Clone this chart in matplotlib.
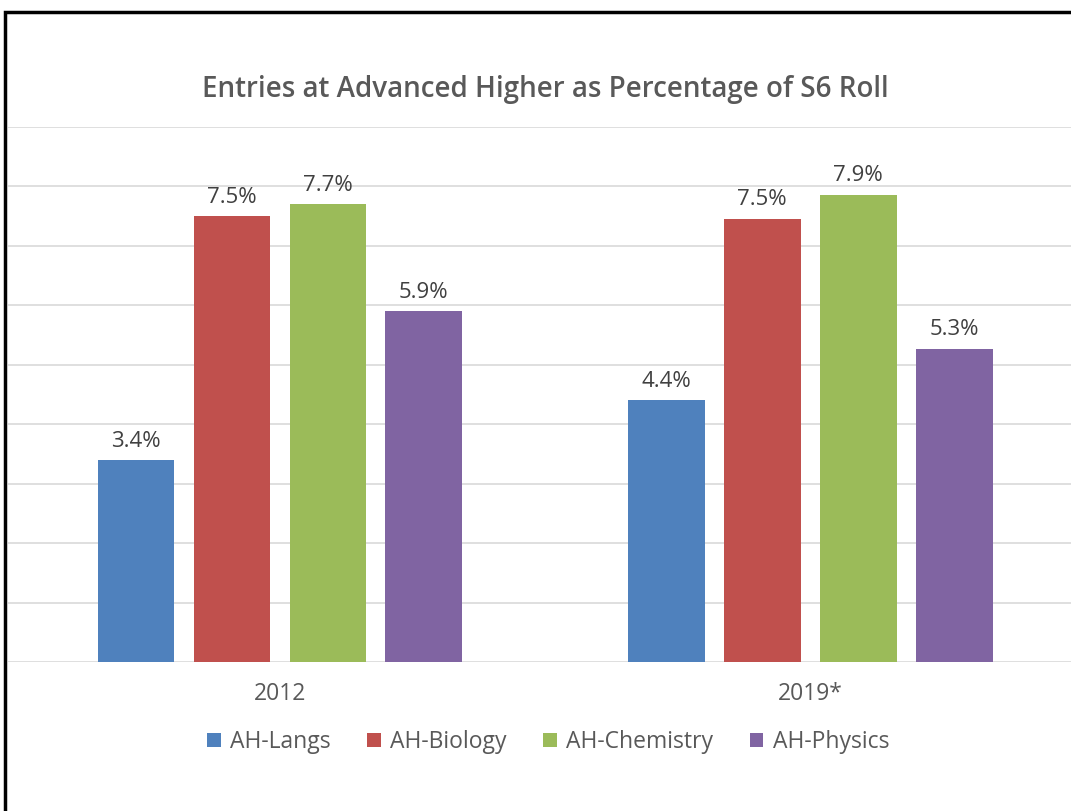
import matplotlib
matplotlib.use("Agg")
import matplotlib.pyplot as plt
from matplotlib.patches import Rectangle
import numpy as np

years = ["2012", "2019*"]
series = ["AH-Langs", "AH-Biology", "AH-Chemistry", "AH-Physics"]
langs = [3.4, 4.4]
biology = [7.5, 7.46]
chemistry = [7.7, 7.86]
physics = [5.9, 5.27]
colors = ["#4F81BD", "#C0504D", "#9BBB59", "#8064A2"]

values = [langs, biology, chemistry, physics]

plt.rcParams['font.family'] = ['Open Sans', 'DejaVu Sans']
text_color = "#595959"

fig = plt.figure(figsize=(10.71, 8.11), dpi=100)
ax = fig.add_axes([8/1071, 1 - 662/811, 1 - 8/1071, (662 - 127)/811])

x = np.arange(len(years))
width = 0.145
step = 0.181
for i, (name, vals, c) in enumerate(zip(series, values, colors)):
    pos = x + (i - 1.5) * step
    bars = ax.bar(pos, vals, width=width, color=c, label=name, zorder=3)
    for b, v in zip(bars, vals):
        ax.text(b.get_x() + b.get_width()/2, v + 0.14, f"{v:.1f}%",
                ha="center", va="bottom", fontsize=16, color="#404040")

ax.set_ylim(0, 9)
ax.set_xlim(-0.513, 1.492)
ax.set_yticks(np.arange(0, 10, 1))
ax.yaxis.grid(True, color="#D9D9D9", linewidth=1.2, zorder=0)
ax.tick_params(axis="y", left=False, labelleft=False)
ax.tick_params(axis="x", bottom=False, pad=11)
ax.set_xticks(x)
ax.set_xticklabels(years, fontsize=16.5, color=text_color)
for s in ax.spines.values():
    s.set_visible(False)

fig.text(545/1071, 1 - 90/811, "Entries at Advanced Higher as Percentage of S6 Roll",
         ha="center", va="center", fontsize=20, fontweight="semibold",
         color=text_color)

fig.legend(loc="center", bbox_to_anchor=(548/1071, 1 - 742/811), ncol=4,
           frameon=False, fontsize=16.5, handlelength=0.6, handleheight=0.6,
           handletextpad=0.4, columnspacing=1.6, labelcolor=text_color)

fig.patches.append(Rectangle((5/1071, -0.1), 1.2, 1 - 12/811 + 0.1,
                             transform=fig.transFigure, fill=False,
                             edgecolor="black", linewidth=2.5, zorder=10))

fig.savefig("out.png", dpi=100)
